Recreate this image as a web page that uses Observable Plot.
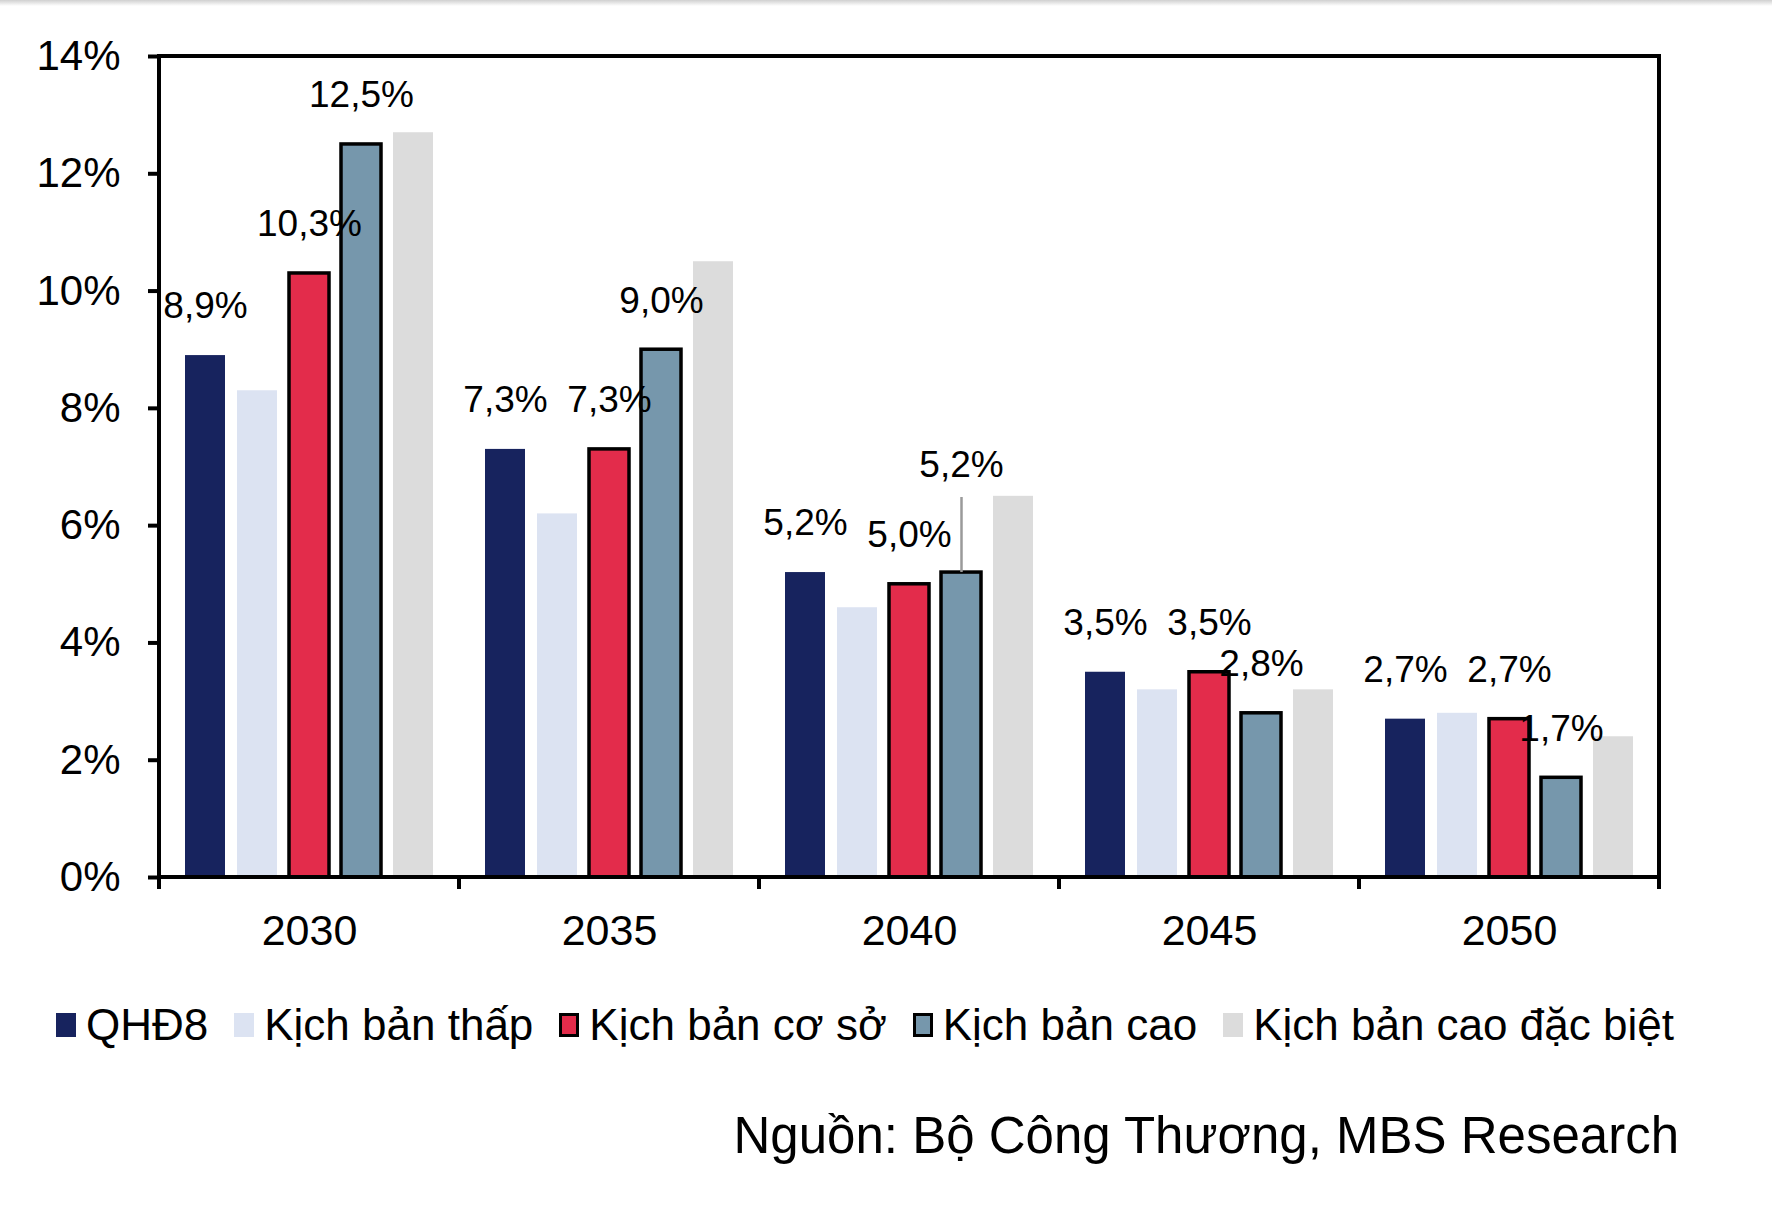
<!DOCTYPE html>
<html>
<head>
<meta charset="utf-8">
<script src="https://cdn.jsdelivr.net/npm/d3@7"></script>
<script src="https://cdn.jsdelivr.net/npm/@observablehq/plot@0.6"></script>
<style>
  body { margin: 0; background: #fff; font-family: "Liberation Sans", Arial, sans-serif; }
  #wrap { position: relative; width: 1772px; height: 1213px; overflow: hidden; background: #fff; }
  #topshade { position: absolute; left: 0; top: 0; width: 1772px; height: 6px; background: linear-gradient(#d0d0d0, #fff); }
  #chart { position: absolute; left: 0; top: 0; }
  #legend { position: absolute; left: 56px; top: 1003px; display: flex; align-items: center; font-size: 44px; line-height: 44px; color: #000; white-space: nowrap; }
  #legend .item { display: flex; align-items: center; margin-right: 26px; }
  #legend .sw { width: 20px; height: 24px; margin-right: 10px; box-sizing: border-box; }
  #source { position: absolute; right: 93px; top: 1110px; font-size: 51px; line-height: 51px; color: #000; white-space: nowrap; }
</style>
</head>
<body>
<div id="wrap">
  <div id="topshade"></div>
  <div id="chart"></div>
  <div id="legend"></div>
  <div id="source">Nguồn: Bộ Công Thương, MBS Research</div>
</div>
<script>
// ---- data ----
const years = ["2030", "2035", "2040", "2045", "2050"];
const series = ["QHĐ8", "Kịch bản thấp", "Kịch bản cơ sở", "Kịch bản cao", "Kịch bản cao đặc biệt"];
const colors = ["#17235e", "#dce3f2", "#e32c4b", "#7697ac", "#dcdcdc"];
const qhd8 = [8.9, 7.3, 5.2, 3.5, 2.7];
const thap = [8.3, 6.2, 4.6, 3.2, 2.8];
const coSo = [10.3, 7.3, 5.0, 3.5, 2.7];
const cao = [12.5, 9.0, 5.2, 2.8, 1.7];
const caoDacBiet = [12.7, 10.5, 6.5, 3.2, 2.4];
const labeledSeries = ["QHĐ8", "Kịch bản cơ sở", "Kịch bản cao"];
const outlinedSeries = ["Kịch bản cơ sở", "Kịch bản cao"];
const yTicks = [0, 2, 4, 6, 8, 10, 12, 14];

const valuesBySeries = [qhd8, thap, coSo, cao, caoDacBiet];
const rows = [];
years.forEach((yr, i) => series.forEach((s, j) => rows.push({year: yr, series: s, value: valuesBySeries[j][i]})));

const fmt = v => d3.format(".1f")(v).replace(".", ",") + "%";
const isRaised = d => d.year === "2040" && d.series === "Kịch bản cao";
const isLabeled = d => labeledSeries.includes(d.series);

const plot = Plot.plot({
  width: 1772,
  height: 980,
  marginLeft: 159,
  marginRight: 113,
  marginTop: 56,
  marginBottom: 103,
  style: {fontFamily: "'Liberation Sans', Arial, sans-serif", color: "#000", background: "transparent", overflow: "visible"},
  fx: {domain: years, padding: 0, label: null},
  x: {domain: series, paddingInner: 0.226, paddingOuter: 0.466, axis: null},
  y: {domain: [0, 14], label: null},
  color: {domain: series, range: colors},
  marks: [
    Plot.barY(rows, {filter: d => !outlinedSeries.includes(d.series), fx: "year", x: "series", y: "value", fill: "series"}),
    Plot.barY(rows, {filter: d => outlinedSeries.includes(d.series), fx: "year", x: "series", y: "value", fill: "series", stroke: "#000", strokeWidth: 3.5}),
    Plot.ruleX(rows, {filter: isRaised, fx: "year", x: "series", y1: "value", y2: d => d.value + 1.28, stroke: "#9a9a9a", strokeWidth: 2.5}),
    Plot.text(rows, {filter: d => isLabeled(d) && !isRaised(d), fx: "year", x: "series", y: "value", text: d => fmt(d.value), dy: -49, lineAnchor: "middle", fontSize: 37, fill: "#000"}),
    Plot.text(rows, {filter: isRaised, fx: "year", x: "series", y: "value", text: d => fmt(d.value), dy: -107, lineAnchor: "middle", fontSize: 37, fill: "#000"}),
    Plot.axisY({ticks: yTicks, tickFormat: d => d + "%", tickSize: 11, tickPadding: 28, fontSize: 42, strokeWidth: 4, label: null}),
    Plot.axisFx({anchor: "bottom", tickSize: 0, tickPadding: 37, fontSize: 43, label: null})
  ]
});
document.getElementById("chart").appendChild(plot);

// ---- outer frame and category boundary ticks from the plot's own scales ----
const fxS = plot.scale("fx"), yS = plot.scale("y");
const band = d3.scaleBand().domain(fxS.domain).range(fxS.range).padding(0);
const bounds = fxS.domain.map(d => band(d)).concat([band(fxS.domain[fxS.domain.length - 1]) + band.bandwidth()]);
const yScale = d3.scaleLinear().domain(yS.domain).range(yS.range);
const svg = d3.select(plot);
const g = svg.append("g").attr("stroke", "#000").attr("fill", "none");
g.append("rect")
  .attr("x", bounds[0]).attr("y", yScale(14))
  .attr("width", bounds[bounds.length - 1] - bounds[0])
  .attr("height", yScale(0) - yScale(14))
  .attr("stroke-width", 4);
g.selectAll("line.bt").data(bounds).join("line")
  .attr("x1", d => d).attr("x2", d => d)
  .attr("y1", yScale(0)).attr("y2", yScale(0) + 12)
  .attr("stroke-width", 4);

// ---- legend ----
const legend = d3.select("#legend");
series.forEach((s, i) => {
  const item = legend.append("div").attr("class", "item");
  item.append("div").attr("class", "sw")
    .style("background", colors[i])
    .style("border", outlinedSeries.includes(s) ? "3px solid #000" : "none");
  item.append("span").text(s);
});
</script>
</body>
</html>
